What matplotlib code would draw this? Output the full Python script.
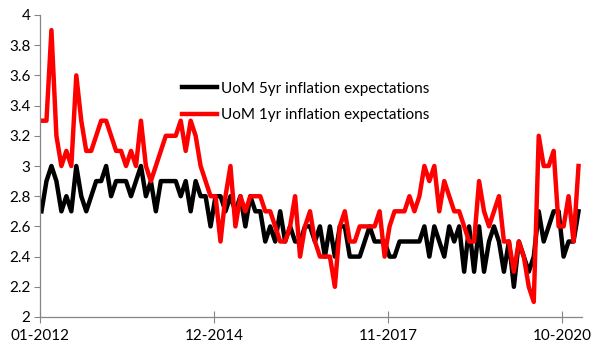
import numpy as np
import matplotlib
matplotlib.use("Agg")
import matplotlib.pyplot as plt

plt.rcParams['font.family'] = ['Lato', 'DejaVu Sans']

# monthly readings, 01-2012 onwards
uom_5yr = [2.7, 2.9, 3.0, 2.9, 2.7, 2.8, 2.7, 3.0, 2.8, 2.7, 2.8, 2.9, 2.9, 3.0, 2.8, 2.9,
           2.9, 2.9, 2.8, 2.9, 3.0, 2.8, 2.9, 2.7, 2.9, 2.9, 2.9, 2.9, 2.8, 2.9, 2.7, 2.9,
           2.8, 2.8, 2.6, 2.8, 2.8, 2.7, 2.8, 2.7, 2.8, 2.6, 2.8, 2.7, 2.7, 2.5, 2.6, 2.5,
           2.7, 2.5, 2.6, 2.5, 2.5, 2.6, 2.6, 2.5, 2.6, 2.4, 2.6, 2.4, 2.6, 2.6, 2.4, 2.4,
           2.4, 2.5, 2.6, 2.5, 2.5, 2.5, 2.4, 2.4, 2.5, 2.5, 2.5, 2.5, 2.5, 2.6, 2.4, 2.6,
           2.5, 2.4, 2.6, 2.5, 2.6, 2.3, 2.6, 2.3, 2.6, 2.3, 2.5, 2.6, 2.5, 2.3, 2.5, 2.2,
           2.5, 2.4, 2.3, 2.4, 2.7, 2.5, 2.6, 2.7, 2.7, 2.4, 2.5, 2.5, 2.7]
uom_1yr = [3.3, 3.3, 3.9, 3.2, 3.0, 3.1, 3.0, 3.6, 3.3, 3.1, 3.1, 3.2, 3.3, 3.3, 3.2, 3.1,
           3.1, 3.0, 3.1, 3.0, 3.3, 3.0, 2.9, 3.0, 3.1, 3.2, 3.2, 3.2, 3.3, 3.1, 3.3, 3.2,
           3.0, 2.9, 2.8, 2.8, 2.5, 2.8, 3.0, 2.6, 2.8, 2.7, 2.8, 2.8, 2.8, 2.7, 2.7, 2.6,
           2.5, 2.5, 2.6, 2.8, 2.4, 2.6, 2.7, 2.5, 2.4, 2.4, 2.4, 2.2, 2.6, 2.7, 2.5, 2.5,
           2.6, 2.6, 2.6, 2.6, 2.7, 2.4, 2.6, 2.7, 2.7, 2.7, 2.8, 2.7, 2.8, 3.0, 2.9, 3.0,
           2.7, 2.9, 2.8, 2.7, 2.7, 2.6, 2.5, 2.5, 2.9, 2.7, 2.6, 2.7, 2.8, 2.5, 2.5, 2.3,
           2.5, 2.4, 2.2, 2.1, 3.2, 3.0, 3.0, 3.1, 2.6, 2.6, 2.8, 2.5, 3.0]

tick_months = [0, 35, 70, 105]
tick_labels = ["01-2012", "12-2014", "11-2017", "10-2020"]
y_ticks = [2, 2.2, 2.4, 2.6, 2.8, 3, 3.2, 3.4, 3.6, 3.8, 4]

x = np.arange(len(uom_5yr)) + 0.3

fig = plt.figure(figsize=(5.94, 3.55), dpi=100)
ax = fig.add_axes([40 / 594, 1 - 317 / 355, 542 / 594, 302 / 355])

ax.plot(x, uom_5yr, color="black", lw=3.2, solid_joinstyle="round",
        label="UoM 5yr inflation expectations")
ax.plot(x, uom_1yr, color="#ff0000", lw=3.2, solid_joinstyle="round",
        label="UoM 1yr inflation expectations")

ax.set_xlim(0, 109)
ax.set_ylim(2, 4)
ax.set_xticks(tick_months)
ax.set_xticklabels(tick_labels)
ax.set_yticks(y_ticks)
ax.set_yticklabels([f"{v:g}" for v in y_ticks])

for s in ["top", "right"]:
    ax.spines[s].set_visible(False)
for s in ["left", "bottom"]:
    ax.spines[s].set_color("#868686")
    ax.spines[s].set_linewidth(0.9)
ax.tick_params(axis="y", direction="out", length=4, color="#868686", labelsize=11, pad=3)
ax.tick_params(axis="x", direction="inout", length=8, color="#868686", labelsize=11, pad=5)

ax.legend(loc="upper left", bbox_to_anchor=(0.25, 0.80), frameon=False, fontsize=11,
          handlelength=2.3, handletextpad=0.3, labelspacing=0.85, borderaxespad=0)

fig.savefig("out.png", dpi=100)
